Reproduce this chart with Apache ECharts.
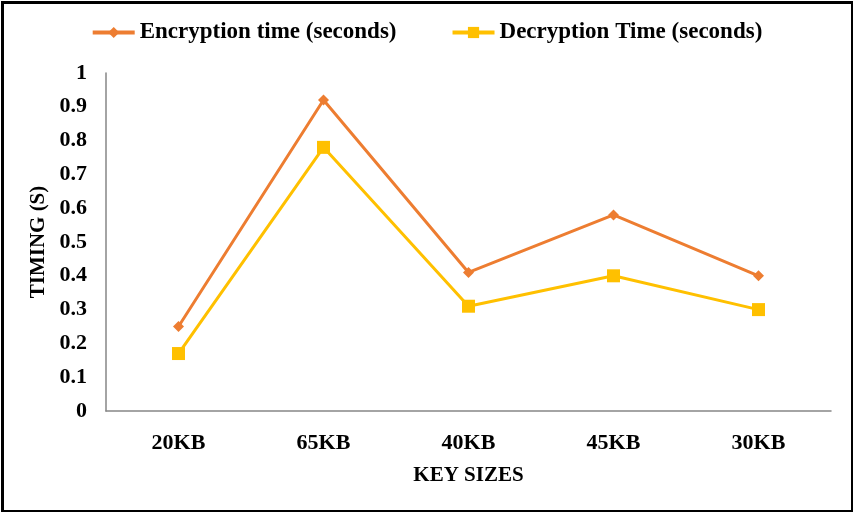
<!DOCTYPE html>
<html><head><meta charset="utf-8">
<script src="https://cdn.jsdelivr.net/npm/echarts@6/dist/echarts.min.js"></script>
<style>html,body{margin:0;padding:0;background:#fff}#c{width:853px;height:512px}</style>
</head><body><div id="c"></div>
<script>
const categories = ['20KB','65KB','40KB','45KB','30KB'];
const encryption = [0.25, 0.92, 0.41, 0.58, 0.40];
const decryption = [0.17, 0.78, 0.31, 0.40, 0.30];
const yTicks = { min: 0, max: 1, interval: 0.1 };

const font = '"Liberation Serif", "Times New Roman", serif';
const chart = echarts.init(document.getElementById('c'));
chart.setOption({
  animation: false,
  backgroundColor: '#fff',
  graphic: [{
    type: 'rect', left: 0, top: 0, z: 100, silent: true,
    shape: { x: 1.5, y: 1.5, width: 850, height: 509 },
    style: { fill: 'none', stroke: '#000', lineWidth: 3 }
  }],
  legend: {
    top: 16, left: 'center', itemGap: 54, itemWidth: 42, itemHeight: 14,
    lineStyle: { width: 4 },
    textStyle: { fontFamily: font, fontWeight: 'bold', fontSize: 23, color: '#000' },
    data: ['Encryption time (seconds)', 'Decryption Time (seconds)']
  },
  grid: { left: 106, right: 22, top: 73, bottom: 101, containLabel: false },
  xAxis: {
    type: 'category', data: categories, boundaryGap: true,
    axisLine: { lineStyle: { color: '#868686', width: 1.5 } },
    axisTick: { show: false },
    axisLabel: { fontFamily: font, fontWeight: 'bold', fontSize: 22, color: '#000', margin: 21 },
    name: 'KEY SIZES', nameLocation: 'middle', nameGap: 54,
    nameTextStyle: { fontFamily: font, fontWeight: 'bold', fontSize: 21, color: '#000' }
  },
  yAxis: {
    type: 'value', min: yTicks.min, max: yTicks.max, interval: yTicks.interval,
    axisLine: { show: true, lineStyle: { color: '#868686', width: 1.5 } },
    axisTick: { show: false },
    splitLine: { show: false },
    axisLabel: { fontFamily: font, fontWeight: 'bold', fontSize: 22, color: '#000', margin: 19 },
    name: 'TIMING (S)', nameLocation: 'middle', nameGap: 55, nameRotate: 90,
    nameTextStyle: { fontFamily: font, fontWeight: 'bold', fontSize: 21, color: '#000' }
  },
  series: [
    {
      name: 'Encryption time (seconds)', type: 'line', data: encryption,
      symbol: 'diamond', symbolSize: 11,
      lineStyle: { color: '#ED7D31', width: 3 },
      itemStyle: { color: '#ED7D31' }
    },
    {
      name: 'Decryption Time (seconds)', type: 'line', data: decryption,
      symbol: 'rect', symbolSize: 13,
      lineStyle: { color: '#FFC000', width: 3 },
      itemStyle: { color: '#FFC000' }
    }
  ]
});
</script></body></html>
